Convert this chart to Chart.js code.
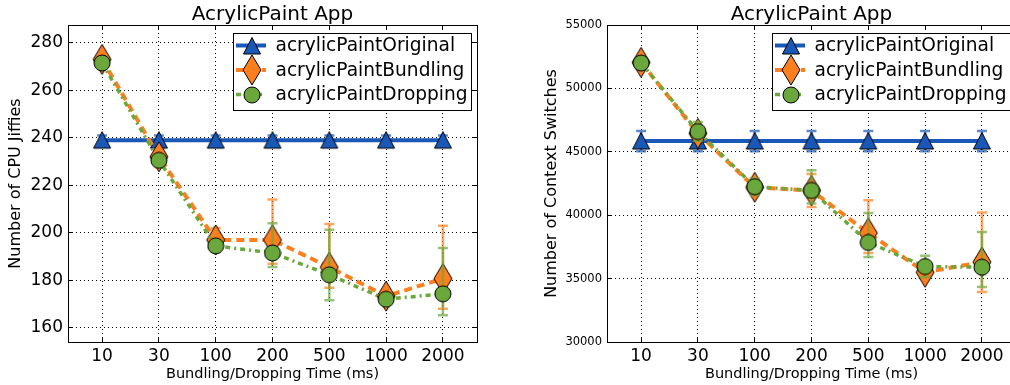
<!DOCTYPE html>
<html>
<head>
<meta charset="utf-8">
<script src="https://cdn.jsdelivr.net/npm/chart.js@4.4.1/dist/chart.umd.min.js"></script>
<style>
  html, body { margin: 0; padding: 0; background: #fff; overflow: hidden; }
  .panel { position: absolute; top: 0; height: 385px; }
  #left { left: 0; width: 505px; }
  #right { left: 505px; width: 539px; }
</style>
</head>
<body>
<div class="panel" id="left"><canvas id="cpu" width="505" height="385"></canvas></div>
<div class="panel" id="right"><canvas id="switches" width="539" height="385"></canvas></div>
<script>
const times = ['10', '30', '100', '200', '500', '1000', '2000'];
const seriesNames = ['acrylicPaintOriginal', 'acrylicPaintBundling', 'acrylicPaintDropping'];

// cpu jiffies (left)
const cpuOriginal = [239, 239, 239, 239, 239, 239, 239];
const cpuOriginalLow = [237, 237, 237, 237, 237, 237, 237];
const cpuOriginalHigh = [241, 241, 241, 241, 241, 241, 241];
const cpuBundling = [273, 232, 197, 197, 185.5, 173.3, 180.7];
const cpuBundlingLow = [271, 229, 193, 187, 176.8, 171, 168];
const cpuBundlingHigh = [275, 235, 202, 214, 203.7, 175.5, 203];
const cpuDropping = [271.5, 230.5, 194.5, 191.5, 182.3, 172, 174.3];
const cpuDroppingLow = [270, 228, 192, 185.6, 171.6, 170, 165.3];
const cpuDroppingHigh = [273, 232.5, 197, 204, 201.3, 174, 193.6];

// context switches (right)
const ctxOriginal = [45850, 45850, 45850, 45850, 45850, 45850, 45850];
const ctxOriginalLow = [45050, 45050, 45050, 45050, 45050, 45050, 45050];
const ctxOriginalHigh = [46650, 46650, 46650, 46650, 46650, 46650, 46650];
const ctxBundling = [52050, 46450, 42200, 41950, 38600, 35500, 36300];
const ctxBundlingLow = [51700, 45900, 41700, 40650, 37020, 35000, 33940];
const ctxBundlingHigh = [52400, 47000, 42700, 43250, 41180, 36000, 40210];
const ctxDropping = [52000, 46600, 42250, 41950, 37850, 35950, 35900];
const ctxDroppingLow = [51800, 45850, 41600, 40920, 36700, 35100, 34330];
const ctxDroppingHigh = [52200, 47350, 42900, 43550, 40180, 36810, 38680];

const BLUE = '#1a58b8';
const ORANGE = '#ff7f1f';
const GREEN = '#6aa83c';

Chart.defaults.font.family = '"DejaVu Sans"';
Chart.defaults.color = '#000';

function markerCanvas(w, h, color, draw) {
  const c = document.createElement('canvas');
  c.width = w;
  c.height = h;
  const g = c.getContext('2d');
  g.beginPath();
  draw(g);
  g.closePath();
  g.fillStyle = color;
  g.fill();
  g.lineWidth = 1;
  g.strokeStyle = '#000';
  g.stroke();
  return c;
}

const triangle = markerCanvas(20, 20, BLUE, (g) => {
  g.moveTo(10, 1.5); g.lineTo(18.5, 18); g.lineTo(1.5, 18);
});
const diamond = markerCanvas(22, 34, ORANGE, (g) => {
  g.moveTo(11, 2); g.lineTo(20, 17); g.lineTo(11, 32); g.lineTo(2, 17);
});
const circle = markerCanvas(18, 18, GREEN, (g) => {
  g.arc(9, 9, 8, 0, Math.PI * 2);
});

// vertical error bars with caps, drawn under each dataset's line
const errorBars = {
  id: 'errorBars',
  beforeDatasetDraw(chart, { index }) {
    const ds = chart.data.datasets[index];
    const { ctx, scales: { x, y } } = chart;
    ctx.save();
    ctx.strokeStyle = ds.errColor;
    ctx.lineWidth = 2.5;
    ctx.beginPath();
    ds.low.forEach((lo, i) => {
      const px = x.getPixelForValue(i);
      const top = y.getPixelForValue(ds.high[i]);
      const bot = y.getPixelForValue(lo);
      ctx.moveTo(px, top); ctx.lineTo(px, bot);
      ctx.moveTo(px - 5, top); ctx.lineTo(px + 5, top);
      ctx.moveTo(px - 5, bot); ctx.lineTo(px + 5, bot);
    });
    ctx.stroke();
    ctx.restore();
  },
};

// box around the plot with inward ticks on every side
const frame = {
  id: 'frame',
  afterDatasetsDraw(chart) {
    const { ctx, chartArea: a, scales: { x, y } } = chart;
    const align = (p) => Math.round(p + 0.5) - 0.5;
    ctx.save();
    ctx.strokeStyle = '#000';
    ctx.lineWidth = 1;
    ctx.beginPath();
    x.ticks.forEach((t) => {
      const px = align(x.getPixelForValue(t.value));
      ctx.moveTo(px, a.top); ctx.lineTo(px, a.top + 5);
      ctx.moveTo(px, a.bottom); ctx.lineTo(px, a.bottom - 5);
    });
    y.ticks.forEach((t) => {
      const py = align(y.getPixelForValue(t.value));
      ctx.moveTo(a.left, py); ctx.lineTo(a.left + 5, py);
      ctx.moveTo(a.right, py); ctx.lineTo(a.right - 5, py);
    });
    ctx.stroke();
    ctx.strokeRect(align(a.left), align(a.top), Math.round(a.right - a.left), Math.round(a.bottom - a.top));
    ctx.restore();
  },
};

// legend box inside the upper right corner of the plot
const boxLegend = {
  id: 'boxLegend',
  afterDraw(chart) {
    const { ctx, chartArea: a } = chart;
    const w = 238;
    const h = 77;
    const left = Math.round(a.right - 6 - w);
    const top = Math.round(a.top + 8);
    ctx.save();
    ctx.fillStyle = '#fff';
    ctx.fillRect(left, top, w, h);
    ctx.strokeStyle = '#000';
    ctx.lineWidth = 1;
    ctx.strokeRect(left + 0.5, top + 0.5, w, h);
    ctx.font = '18.6px "DejaVu Sans"';
    ctx.textBaseline = 'middle';
    chart.data.datasets.forEach((ds, i) => {
      const cy = top + 12.5 + i * 24.5;
      ctx.save();
      ctx.strokeStyle = ds.borderColor;
      ctx.lineWidth = ds.borderWidth;
      ctx.setLineDash(ds.borderDash || []);
      ctx.beginPath();
      ctx.moveTo(left + 3, cy);
      ctx.lineTo(left + 33, cy);
      ctx.stroke();
      ctx.restore();
      const img = ds.pointStyle;
      ctx.drawImage(img, Math.round(left + 19 - img.width / 2), Math.round(cy - img.height / 2));
      ctx.fillStyle = '#000';
      ctx.fillText(ds.label, left + 42.5, cy + 1);
    });
    ctx.restore();
  },
};

function series(label, values, low, high, color, errColor, marker, style, order) {
  return {
    label,
    data: values.map((v, i) => ({ x: i, y: v })),
    low,
    high,
    errColor,
    borderColor: color,
    backgroundColor: color,
    borderWidth: style.width,
    borderDash: style.dash,
    pointStyle: marker,
    pointRadius: 9,
    pointHoverRadius: 9,
    fill: false,
    tension: 0,
    order,
  };
}

function makeChart(id, opts) {
  return new Chart(document.getElementById(id), {
    type: 'line',
    data: {
      datasets: [
        series(seriesNames[0], opts.original, opts.originalLow, opts.originalHigh,
          BLUE, 'rgba(26,88,184,0.7)', triangle, { width: 4, dash: [] }, 3),
        series(seriesNames[1], opts.bundling, opts.bundlingLow, opts.bundlingHigh,
          ORANGE, 'rgba(255,127,31,0.7)', diamond, { width: 4, dash: [8, 5] }, 2),
        series(seriesNames[2], opts.dropping, opts.droppingLow, opts.droppingHigh,
          GREEN, 'rgba(106,168,60,0.7)', circle, { width: 3.5, dash: [5, 4, 2, 4] }, 1),
      ],
    },
    options: {
      responsive: false,
      animation: false,
      layout: { padding: { left: 0, right: 28, top: 0, bottom: 0 } },
      plugins: {
        legend: { display: false },
        tooltip: { enabled: false },
        title: {
          display: true,
          text: 'AcrylicPaint App',
          fullSize: false,
          font: { size: 20, weight: 'normal', lineHeight: 1 },
          padding: { top: 5, bottom: 0 },
        },
      },
      scales: {
        x: {
          type: 'linear',
          min: -0.6,
          max: 6.6,
          afterBuildTicks: (s) => { s.ticks = times.map((_, i) => ({ value: i })); },
          afterFit: (s) => { s.height = 43; },
          ticks: {
            callback: (v) => times[v],
            font: { size: 17 },
            padding: 4,
            autoSkip: false,
            maxRotation: 0,
          },
          grid: { color: '#000', lineWidth: 1, drawTicks: false },
          border: { display: false, dash: [1, 3] },
          title: {
            display: true,
            text: 'Bundling/Dropping Time (ms)',
            font: { size: 14.5 },
            padding: { top: 0, bottom: 2 },
          },
        },
        y: {
          min: opts.yMin,
          max: opts.yMax,
          afterFit: (s) => { s.width = opts.yWidth; },
          ticks: {
            stepSize: opts.yStep,
            includeBounds: false,
            callback: (v) => String(v),
            font: { size: opts.yTickSize },
            padding: 5,
          },
          grid: { color: '#000', lineWidth: 1, drawTicks: false },
          border: { display: false, dash: [1, 3] },
          title: {
            display: true,
            text: opts.yTitle,
            font: { size: 16 },
            padding: { top: opts.yTitlePad, bottom: 0 },
          },
        },
      },
    },
    plugins: [errorBars, frame, boxLegend],
  });
}

makeChart('cpu', {
  original: cpuOriginal, originalLow: cpuOriginalLow, originalHigh: cpuOriginalHigh,
  bundling: cpuBundling, bundlingLow: cpuBundlingLow, bundlingHigh: cpuBundlingHigh,
  dropping: cpuDropping, droppingLow: cpuDroppingLow, droppingHigh: cpuDroppingHigh,
  yMin: 154, yMax: 287.5, yStep: 20, yTickSize: 17, yWidth: 68,
  yTitle: 'Number of CPU Jiffies', yTitlePad: 6,
});

makeChart('switches', {
  original: ctxOriginal, originalLow: ctxOriginalLow, originalHigh: ctxOriginalHigh,
  bundling: ctxBundling, bundlingLow: ctxBundlingLow, bundlingHigh: ctxBundlingHigh,
  dropping: ctxDropping, droppingLow: ctxDroppingLow, droppingHigh: ctxDroppingHigh,
  yMin: 30000, yMax: 55000, yStep: 5000, yTickSize: 11.5, yWidth: 102,
  yTitle: 'Number of Context Switches', yTitlePad: 37,
});
</script>
</body>
</html>
